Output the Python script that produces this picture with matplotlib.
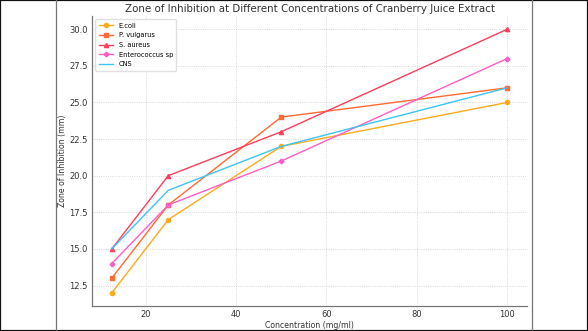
import matplotlib.pyplot as plt
from matplotlib.lines import Line2D
from matplotlib.patches import Rectangle

# concentrations (mg/ml) and zone of inhibition (mm)
concentration = [12.5, 25, 50, 100]
e_coli = [12, 17, 22, 25]
p_vulgarus = [13, 18, 24, 26]
s_aureus = [15, 20, 23, 30]
enterococcus = [14, 18, 21, 28]
cns = [15, 19, 22, 26]

series = [
    ('E.coli', e_coli, '#FFAA1C', 'o'),
    ('P. vulgarus', p_vulgarus, '#FF6A33', 's'),
    ('S. aureus', s_aureus, '#FF3D5C', '^'),
    ('Enterococcus sp', enterococcus, '#FF5CC6', 'P'),
    ('CNS', cns, '#3CC4F5', None),
]

plt.rcParams['font.family'] = ['DejaVu Sans']
fig = plt.figure(figsize=(5.88, 3.31), dpi=100)
ax = fig.add_axes([0.1565, 0.0755, 0.7398, 0.876])

for name, vals, col, mk in series:
    ax.plot(concentration, vals, color=col, marker=mk, markersize=3,
            linewidth=1, label=name)

ax.set_title('Zone of Inhibition at Different Concentrations of Cranberry Juice Extract',
             fontsize=7.4, color='#333333', pad=3)
ax.set_xlabel('Concentration (mg/ml)', fontsize=5.6, color='#333333', labelpad=1)
ax.set_ylabel('Zone of Inhibition (mm)', fontsize=5.6, color='#333333', labelpad=2)
ax.tick_params(labelsize=6, colors='#333333', length=0, pad=3)
ax.grid(True, linestyle=':', color='#cccccc', linewidth=0.6)
for s in ['top', 'right']:
    ax.spines[s].set_visible(False)
for s in ['left', 'bottom']:
    ax.spines[s].set_color('#777777')
    ax.spines[s].set_linewidth(0.9)

ax.legend(loc='upper left', fontsize=4.8, frameon=True, framealpha=0.9,
          edgecolor='#dddddd', borderpad=0.5, labelspacing=0.55, handlelength=2.2)

# screenshot frame
fig.add_artist(Line2D([56 / 588, 56 / 588], [0, 1], color='#777777', lw=0.9))
fig.add_artist(Line2D([531.5 / 588, 531.5 / 588], [0, 1], color='#777777', lw=0.9))
fig.add_artist(Rectangle((0, 0), 1, 1, fill=False, edgecolor='#111111', lw=1.6,
                         transform=fig.transFigure))

fig.savefig('out.png', dpi=100)
